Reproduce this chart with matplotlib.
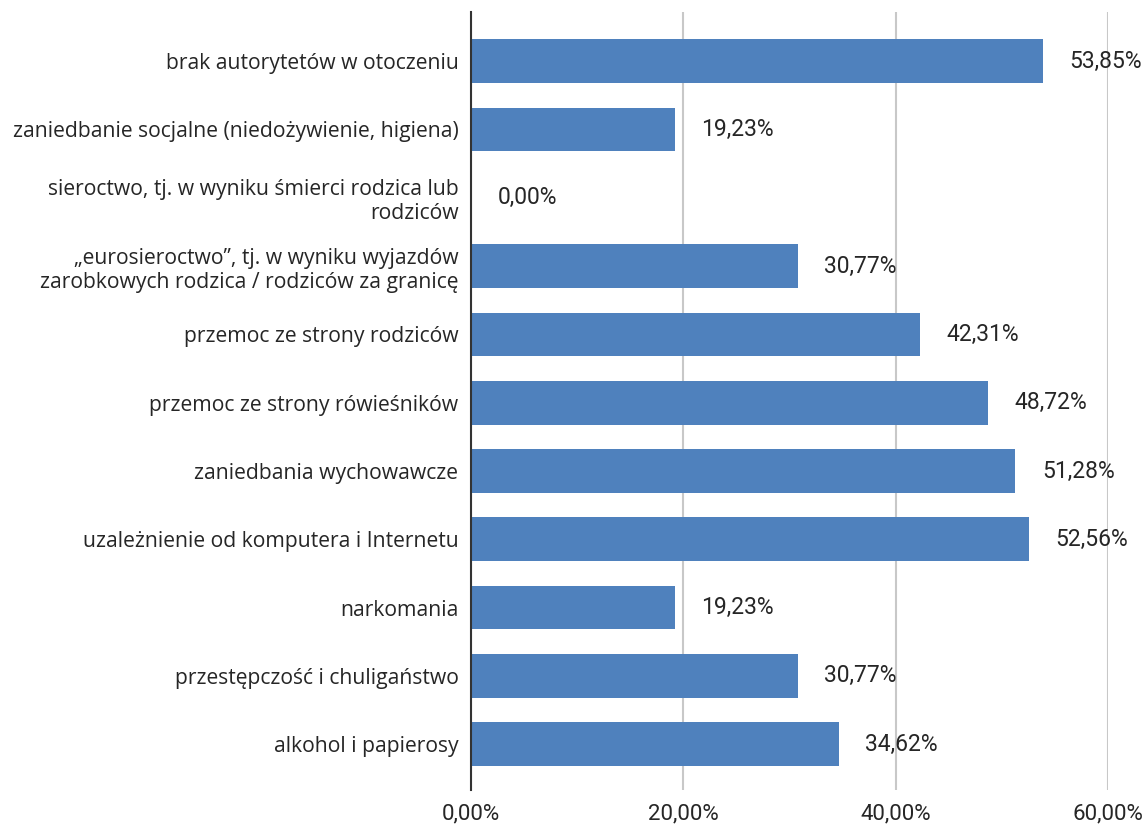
import matplotlib
matplotlib.use("Agg")
import matplotlib.pyplot as plt
from matplotlib.ticker import FuncFormatter

categories = [
    "brak autorytetów w otoczeniu",
    "zaniedbanie socjalne (niedożywienie, higiena)",
    "sieroctwo, tj. w wyniku śmierci rodzica lub\nrodziców",
    "„eurosieroctwo”, tj. w wyniku wyjazdów\nzarobkowych rodzica / rodziców za granicę",
    "przemoc ze strony rodziców",
    "przemoc ze strony rówieśników",
    "zaniedbania wychowawcze",
    "uzależnienie od komputera i Internetu",
    "narkomania",
    "przestępczość i chuligaństwo",
    "alkohol i papierosy",
]
values = [53.85, 19.23, 0.00, 30.77, 42.31, 48.72, 51.28, 52.56, 19.23, 30.77, 34.62]
x_ticks = [0, 20, 40, 60]

plt.rcParams['font.family'] = ['Open Sans', 'DejaVu Sans']
text_color = '#262626'

fig = plt.figure(figsize=(11.47, 8.25), dpi=100)
ax = fig.add_axes([0.4106, 0.0424, 0.5554, 0.9431])

pos = list(range(len(categories)))
ax.barh(pos, values, height=0.64, color='#4F81BD', zorder=3)

for p, v in zip(pos, values):
    label = "{:.2f}%".format(v).replace('.', ',')
    ax.annotate(label, xy=(v, p), xytext=(19, 0), textcoords='offset points',
                ha='left', va='center', fontsize=16.5, color=text_color,
                family=['Roboto', 'DejaVu Sans'])

ax.set_ylim(len(categories) - 0.33, -0.72)
ax.set_xlim(0, 60)
ax.set_yticks(pos)
ax.set_yticklabels(categories, fontsize=15.2, color=text_color, linespacing=1.2)
ax.set_xticks(x_ticks)
ax.xaxis.set_major_formatter(FuncFormatter(lambda x, _: "{:.2f}%".format(x).replace('.', ',')))
for lbl in ax.get_xticklabels():
    lbl.set_family(['Roboto', 'DejaVu Sans'])
    lbl.set_fontsize(16)
    lbl.set_color(text_color)

ax.tick_params(axis='both', length=0)
ax.tick_params(axis='y', pad=9)
ax.tick_params(axis='x', pad=10)
ax.grid(axis='x', color='#C8C8C8', linewidth=1.5, zorder=0)
for side in ['top', 'right', 'bottom']:
    ax.spines[side].set_visible(False)
ax.spines['left'].set_color('#333333')
ax.spines['left'].set_linewidth(1.5)
ax.spines['left'].set_zorder(4)

fig.savefig('out.png', dpi=100)
